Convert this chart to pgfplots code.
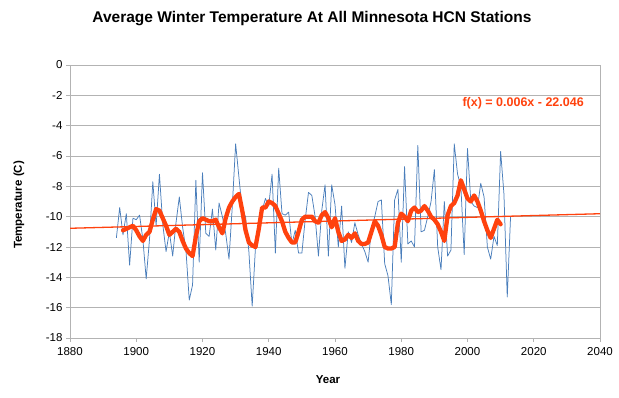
\documentclass[border=0pt]{standalone}
\usepackage{pgfplots}
\pgfplotsset{compat=1.18}
\usepackage{pgfplotstable}
\usepackage{fontspec}
\setmainfont{Liberation Sans}
\definecolor{bl}{HTML}{4A7EBB}
\definecolor{orng}{HTML}{FF420E}
\definecolor{gridgray}{HTML}{B3B3B3}

\pgfplotstableread{
year temp
1894 -11.4
1895 -9.4
1896 -11.2
1897 -9.8
1898 -13.2
1899 -10.1
1900 -10.2
1901 -9.9
1902 -11.5
1903 -14.1
1904 -11.5
1905 -7.7
1906 -10.6
1907 -7.2
1908 -10.5
1909 -12.3
1910 -11.0
1911 -12.6
1912 -10.4
1913 -8.7
1914 -10.7
1915 -12.2
1916 -15.5
1917 -14.5
1918 -7.6
1919 -13.0
1920 -7.1
1921 -11.1
1922 -11.3
1923 -9.5
1924 -12.2
1925 -9.1
1926 -10.0
1927 -11.1
1928 -12.8
1929 -9.3
1930 -5.2
1931 -7.4
1932 -9.6
1933 -10.0
1934 -12.3
1935 -15.9
1936 -12.0
1937 -10.6
1938 -9.6
1939 -8.8
1940 -9.3
1941 -7.2
1942 -12.4
1943 -6.8
1944 -9.8
1945 -9.9
1946 -9.7
1947 -11.8
1948 -10.9
1949 -12.4
1950 -12.4
1951 -10.2
1952 -8.4
1953 -8.6
1954 -10.0
1955 -12.6
1956 -9.6
1957 -7.9
1958 -12.6
1959 -7.9
1960 -9.2
1961 -12.0
1962 -9.3
1963 -13.4
1964 -11.0
1965 -11.7
1966 -10.4
1967 -11.2
1968 -11.8
1969 -12.3
1970 -13.0
1971 -10.8
1972 -10.0
1973 -9.0
1974 -8.9
1975 -13.1
1976 -13.9
1977 -15.8
1978 -8.9
1979 -8.2
1980 -13.0
1981 -6.7
1982 -11.8
1983 -11.6
1984 -12.0
1985 -5.3
1986 -11.0
1987 -10.9
1988 -10.0
1989 -9.0
1990 -6.9
1991 -12.0
1992 -13.5
1993 -9.0
1994 -12.6
1995 -12.2
1996 -5.2
1997 -7.2
1998 -8.0
1999 -12.5
2000 -5.5
2001 -9.0
2002 -9.3
2003 -9.4
2004 -7.8
2005 -8.7
2006 -12.0
2007 -12.8
2008 -11.3
2009 -11.9
2010 -5.7
2011 -8.5
2012 -15.3
2013 -10.0
}\annual

\pgfplotstableread{
year avg
1896 -10.9
1897 -10.8
1898 -10.7
1899 -10.6
1900 -10.9
1901 -11.3
1902 -11.6
1903 -11.2
1904 -11.0
1905 -10.2
1906 -9.5
1907 -9.6
1908 -10.1
1909 -10.6
1910 -11.2
1911 -11.0
1912 -10.8
1913 -11.0
1914 -11.6
1915 -12.1
1916 -12.4
1917 -12.6
1918 -11.3
1919 -10.3
1920 -10.1
1921 -10.2
1922 -10.3
1923 -10.3
1924 -10.2
1925 -10.7
1926 -11.1
1927 -10.1
1928 -9.4
1929 -9.0
1930 -8.7
1931 -8.5
1932 -9.6
1933 -10.9
1934 -11.7
1935 -11.9
1936 -12.0
1937 -10.8
1938 -9.4
1939 -9.4
1940 -9.0
1941 -9.1
1942 -9.3
1943 -9.8
1944 -10.3
1945 -11.0
1946 -11.4
1947 -11.7
1948 -11.7
1949 -11.0
1950 -10.2
1951 -10.0
1952 -10.0
1953 -10.0
1954 -10.3
1955 -10.4
1956 -9.9
1957 -9.7
1958 -10.1
1959 -10.7
1960 -10.1
1961 -11.0
1962 -11.6
1963 -11.5
1964 -11.2
1965 -11.4
1966 -11.1
1967 -11.6
1968 -11.8
1969 -11.8
1970 -11.7
1971 -11.0
1972 -10.3
1973 -10.6
1974 -11.2
1975 -12.0
1976 -12.1
1977 -12.1
1978 -12.0
1979 -10.4
1980 -9.8
1981 -10.0
1982 -10.3
1983 -9.6
1984 -9.4
1985 -9.7
1986 -9.6
1987 -9.3
1988 -9.6
1989 -10.0
1990 -10.2
1991 -10.5
1992 -11.0
1993 -11.6
1994 -9.9
1995 -9.3
1996 -9.1
1997 -8.6
1998 -7.6
1999 -8.2
2000 -8.8
2001 -9.0
2002 -8.6
2003 -9.0
2004 -9.6
2005 -10.3
2006 -10.9
2007 -11.4
2008 -10.8
2009 -10.2
2010 -10.5
}\movavg

\begin{document}
\begin{tikzpicture}
\path[use as bounding box] (0pt,0pt) rectangle (619pt,397pt);
\begin{axis}[
  at={(70pt,59pt)}, anchor=south west,
  scale only axis, width=530pt, height=273pt,
  xmin=1880, xmax=2040, ymin=-18, ymax=0,
  xtick={1880,1900,...,2040},
  ytick={-18,-16,...,0},
  ymajorgrids,
  grid style={color=gridgray, line width=0.8pt},
  axis line style={color=gridgray, line width=0.8pt},
  tick style={color=gridgray, line width=0.8pt},
  tick align=outside, major tick length=4pt,
  xtick pos=bottom, ytick pos=left,
  /pgf/number format/1000 sep={},
  /pgf/number format/assume math mode=true,
  tick label style={font=\fontsize{11.5}{13}\selectfont, text=black},
  xticklabel style={yshift=-2pt},
  clip=true,
]
\addplot[color=bl, line width=0.75pt, line join=round] table[x=year, y=temp] {\annual};
\addplot[color=orng, line width=4.3pt, line join=round, line cap=round] table[x=year, y=avg] {\movavg};
\addplot[color=orng, line width=1.3pt] coordinates {(1880,-10.766) (2040,-9.806)};
\node[text=orng, font=\bfseries\fontsize{12.5}{14}\selectfont] at (axis cs:2016.8,-2.55) {f(x) = 0.006x - 22.046};
\end{axis}
\node[font=\bfseries\fontsize{15.5}{18}\selectfont] at (312pt,378pt) {Average Winter Temperature At All Minnesota HCN Stations};
\node[font=\bfseries\fontsize{11.5}{13}\selectfont, rotate=90] at (19pt,192pt) {Temperature (C)};
\node[font=\bfseries\fontsize{11.5}{13}\selectfont] at (328pt,17pt) {Year};
\end{tikzpicture}
\end{document}
